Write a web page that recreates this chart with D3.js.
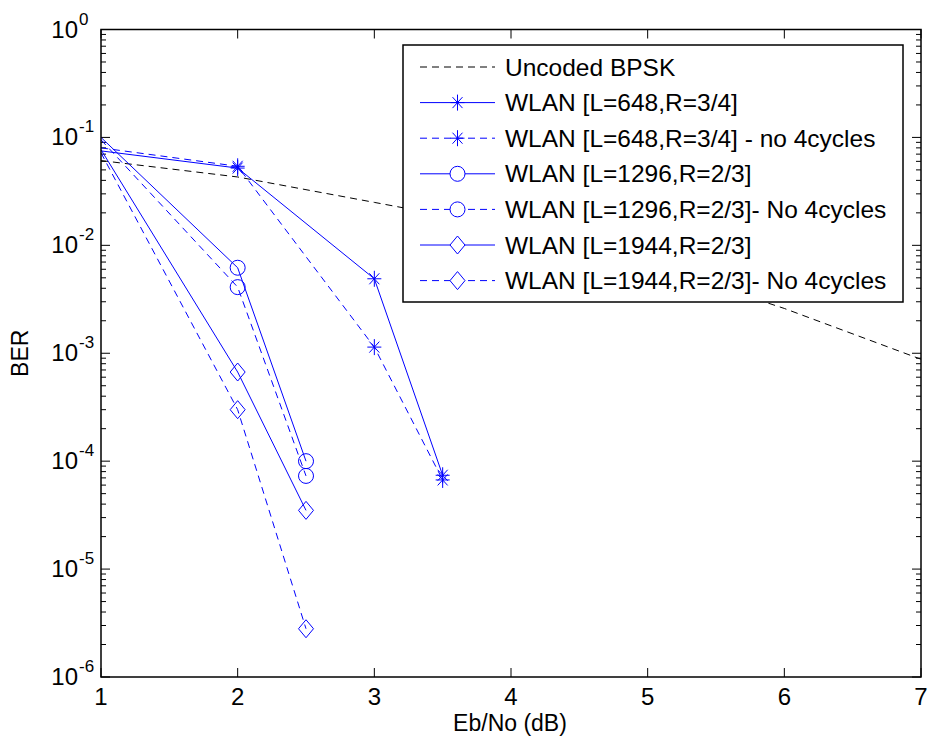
<!DOCTYPE html>
<html>
<head>
<meta charset="utf-8">
<script src="https://cdn.jsdelivr.net/npm/d3@7"></script>
<style>
  body { margin: 0; background: #fff; }
  text { font-family: "Liberation Sans", Arial, sans-serif; fill: #000; }
</style>
</head>
<body>
<svg id="canvas" width="930" height="744"></svg>
<script>
// x values (Eb/No in dB)
const xUncoded = [1, 2, 3, 4, 5, 6, 7]
const berUncoded = [0.061, 0.043, 0.025, 0.0145, 0.0068, 0.0026, 0.00088]

// the curves enter the axes at Eb/No = 1 (clipped), so no marker is drawn there
const x648 = [1, 2, 3, 3.5]
const ber648 = [0.075, 0.052, 0.0049, 7.4e-5]
const ber648No4 = [0.08, 0.054, 0.00114, 6.7e-5]

const x1296 = [1, 2, 2.5]
const ber1296 = [0.1, 0.0062, 1.0e-4]
const ber1296No4 = [0.095, 0.0041, 7.3e-5]

const x1944 = [1, 2, 2.5]
const ber1944 = [0.077, 6.7e-4, 3.5e-5]
const ber1944No4 = [0.072, 3.0e-4, 2.8e-6]

const xTicks = [1, 2, 3, 4, 5, 6, 7]
const yExponents = [0, -1, -2, -3, -4, -5, -6]

const legendLabels = [
    'Uncoded BPSK',
    'WLAN [L=648,R=3/4]',
    'WLAN [L=648,R=3/4] - no 4cycles',
    'WLAN [L=1296,R=2/3]',
    'WLAN [L=1296,R=2/3]- No 4cycles',
    'WLAN [L=1944,R=2/3]',
    'WLAN [L=1944,R=2/3]- No 4cycles'
]

let series = [
    { xs: xUncoded, ys: berUncoded, color: '#000', dash: true, marker: null },
    { xs: x648, ys: ber648, color: '#0000ff', dash: false, marker: 'star' },
    { xs: x648, ys: ber648No4, color: '#0000ff', dash: true, marker: 'star' },
    { xs: x1296, ys: ber1296, color: '#0000ff', dash: false, marker: 'circle' },
    { xs: x1296, ys: ber1296No4, color: '#0000ff', dash: true, marker: 'circle' },
    { xs: x1944, ys: ber1944, color: '#0000ff', dash: false, marker: 'diamond' },
    { xs: x1944, ys: ber1944No4, color: '#0000ff', dash: true, marker: 'diamond' }
]

let canvas = d3.select('#canvas')

const plotL = 101, plotR = 921, plotT = 29.5, plotB = 677

let xScale = d3.scaleLinear().domain([1, 7]).range([plotL, plotR])
let yScale = d3.scaleLog().domain([1e-6, 1]).range([plotB, plotT])

// minor ticks for the log axis
let minorTicks = []
for (let e = -6; e < 0; e++) {
    for (let m = 2; m <= 9; m++) {
        minorTicks.push(m * Math.pow(10, e))
    }
}

let axes = canvas.append('g')

// y ticks, left and right side, pointing inward
axes.selectAll('.ymajor')
    .data(yExponents)
    .enter()
    .append('path')
    .attr('d', (e) => {
        let y = yScale(Math.pow(10, e))
        return `M${plotL},${y}h9M${plotR},${y}h-9`
    })
    .attr('stroke', '#000')
    .attr('stroke-width', 1)

axes.selectAll('.yminor')
    .data(minorTicks)
    .enter()
    .append('path')
    .attr('d', (v) => {
        let y = yScale(v)
        return `M${plotL},${y}h5M${plotR},${y}h-5`
    })
    .attr('stroke', '#000')
    .attr('stroke-width', 1)

// x ticks, bottom and top
axes.selectAll('.xtick')
    .data(xTicks)
    .enter()
    .append('path')
    .attr('d', (v) => {
        let x = xScale(v)
        return `M${x},${plotB}v-9M${x},${plotT}v9`
    })
    .attr('stroke', '#000')
    .attr('stroke-width', 1)

// x tick labels
axes.selectAll('.xlabel')
    .data(xTicks)
    .enter()
    .append('text')
    .attr('x', (v) => xScale(v))
    .attr('y', plotB + 27.5)
    .attr('text-anchor', 'middle')
    .style('font-size', '24px')
    .text((v) => v)

// y tick labels as 10^e
let ylab = axes.selectAll('.ylabel')
    .data(yExponents)
    .enter()
    .append('g')
    .attr('transform', (e) => `translate(0,${yScale(Math.pow(10, e))})`)

ylab.append('text')
    .attr('x', 78)
    .attr('y', 8)
    .attr('text-anchor', 'end')
    .style('font-size', '24px')
    .text('10')

ylab.append('text')
    .attr('x', 79)
    .attr('y', -5)
    .style('font-size', '17px')
    .text((e) => e)

// axis titles
canvas.append('text')
    .attr('x', xScale(4) - 1)
    .attr('y', 731)
    .attr('text-anchor', 'middle')
    .style('font-size', '23px')
    .text('Eb/No (dB)')

canvas.append('text')
    .attr('transform', `translate(28,${(plotT + plotB) / 2}) rotate(-90)`)
    .attr('text-anchor', 'middle')
    .style('font-size', '23px')
    .text('BER')

// plot lines
let line = d3.line()
    .x((d) => xScale(d[0]))
    .y((d) => yScale(d[1]))

let plot = canvas.append('g')

function markerPath(type) {
    if (type === 'star') {
        return 'M-7,0H7M0,-8V8M-5,-5.5L5,5.5M-5,5.5L5,-5.5'
    } else if (type === 'circle') {
        return 'M-7.5,0A7.5,7.5 0 1,0 7.5,0A7.5,7.5 0 1,0 -7.5,0Z'
    } else if (type === 'diamond') {
        return 'M0,-9L7.5,0L0,9L-7.5,0Z'
    }
    return ''
}

series.forEach((s) => {
    let pts = s.xs.map((x, i) => [x, s.ys[i]])
    plot.append('path')
        .attr('d', line(pts))
        .attr('fill', 'none')
        .attr('stroke', s.color)
        .attr('stroke-width', 1)
        .attr('stroke-dasharray', s.dash ? '7,5' : null)

    if (s.marker) {
        plot.selectAll(null)
            .data(pts.filter((d) => d[0] > 1))
            .enter()
            .append('path')
            .attr('transform', (d) => `translate(${xScale(d[0])},${yScale(d[1])})`)
            .attr('d', markerPath(s.marker))
            .attr('fill', 'none')
            .attr('stroke', s.color)
            .attr('stroke-width', 1)
    }
})

// axes box
canvas.append('rect')
    .attr('x', plotL)
    .attr('y', plotT)
    .attr('width', plotR - plotL)
    .attr('height', plotB - plotT)
    .attr('fill', 'none')
    .attr('stroke', '#000')
    .attr('stroke-width', 1.5)

// legend
let legend = canvas.append('g')

legend.append('rect')
    .attr('x', 403)
    .attr('y', 45)
    .attr('width', 500)
    .attr('height', 257)
    .attr('fill', '#fff')
    .attr('stroke', '#000')
    .attr('stroke-width', 1.5)

let rows = legend.selectAll('.row')
    .data(series)
    .enter()
    .append('g')
    .attr('transform', (d, i) => `translate(0,${67 + i * 35.6})`)

rows.append('path')
    .attr('d', 'M420,0H495')
    .attr('stroke', (d) => d.color)
    .attr('stroke-width', 1)
    .attr('stroke-dasharray', (d) => d.dash ? '7,5' : null)

rows.filter((d) => d.marker)
    .append('path')
    .attr('transform', 'translate(457.5,0)')
    .attr('d', (d) => markerPath(d.marker))
    .attr('fill', '#fff')
    .attr('stroke', (d) => d.color)
    .attr('stroke-width', 1)

rows.append('text')
    .attr('x', 505)
    .attr('y', 8.5)
    .style('font-size', '24.5px')
    .text((d, i) => legendLabels[i])
</script>
</body>
</html>
